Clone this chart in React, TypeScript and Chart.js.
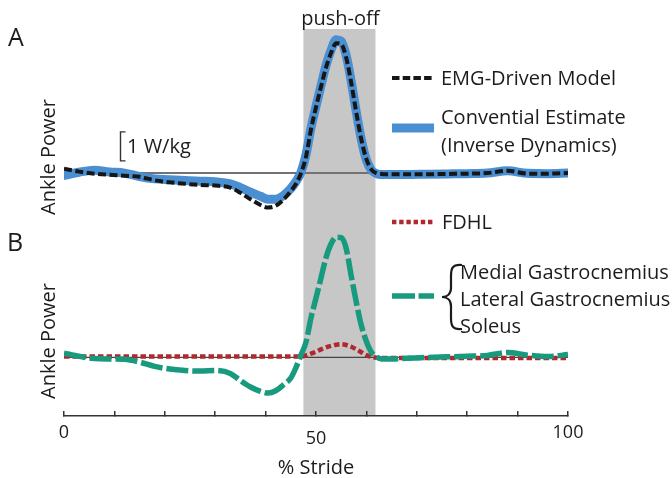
import React, { useEffect, useRef } from 'react';
import { Chart, registerables } from 'chart.js';

Chart.register(...registerables);

// ---------- data ----------
// % of stride at which each curve was sampled
const STRIDE = [0, 3, 6, 9, 12, 15, 18, 21, 24, 27, 30, 33, 35, 37, 39, 40.5, 42, 43.5, 45, 46, 47, 48, 49, 50, 51, 52, 53, 54, 55, 56, 57, 58, 59, 60, 61, 62, 63, 65, 68, 72, 76, 80, 84, 88, 92, 96, 100];

// Panel A (W/kg)
const EMG_MODEL = [0.15, 0.05, -0.02, -0.06, -0.09, -0.13, -0.25, -0.32, -0.37, -0.41, -0.43,
  -0.5, -0.68, -0.9, -1.1, -1.19, -1.13, -0.92, -0.62, -0.38, -0.02,
  0.55, 1.5, 2.27, 2.98, 3.65, 4.15, 4.48, 4.45, 3.98, 3.1, 2.08, 1.15, 0.48, 0.12, 0.0, -0.03,
  -0.04, -0.04, -0.04, -0.03, -0.02, 0.0, 0.08, -0.02, -0.02, 0.0];
const INVERSE_DYNAMICS = [-0.08, 0.03, 0.1, 0.04, 0.0, -0.12, -0.2, -0.23, -0.26, -0.28, -0.3,
  -0.37, -0.5, -0.66, -0.8, -0.9, -0.9, -0.78, -0.53, -0.3, 0.02,
  0.62, 1.55, 2.3, 3.02, 3.72, 4.25, 4.6, 4.55, 4.05, 3.15, 2.1, 1.15, 0.45, 0.1, -0.02, -0.05,
  -0.05, -0.05, -0.04, -0.03, -0.02, 0.0, 0.08, -0.01, -0.02, 0.0];

// Panel B (W/kg)
const TRICEPS_SURAE = [0.15, 0.04, -0.04, -0.05, -0.06, -0.16, -0.31, -0.4, -0.45, -0.47, -0.45,
  -0.55, -0.8, -1.02, -1.17, -1.23, -1.15, -0.95, -0.71, -0.36, 0.08,
  0.52, 1.36, 2.05, 2.75, 3.45, 3.92, 4.15, 4.13, 3.75, 2.8, 1.9, 1.1, 0.55, 0.18, 0.02, -0.05,
  -0.05, -0.03, 0.0, 0.02, 0.04, 0.07, 0.17, 0.08, 0.03, 0.1];
const FDHL = [0.03, 0.03, 0.03, 0.03, 0.03, 0.03, 0.03, 0.03, 0.03, 0.03, 0.03,
  0.03, 0.03, 0.03, 0.03, 0.03, 0.03, 0.03, 0.03, 0.03, 0.03,
  0.07, 0.13, 0.2, 0.28, 0.35, 0.4, 0.44, 0.46, 0.43, 0.37, 0.28, 0.18, 0.08, 0.02, -0.01, -0.02,
  -0.02, -0.02, -0.02, -0.02, -0.02, -0.02, -0.02, -0.02, -0.02, -0.02];

const PUSH_OFF = [47.5, 61.8];
const X_TICK_LABELS = ['0', '50', '100'];
const X_TITLE = '% Stride';
const Y_TITLE = 'Ankle Power';
const PANEL_LABELS = ['A', 'B'];
const PHASE_LABEL = 'push-off';
const SCALE_LABEL = '1 W/kg';
const SCALE_BAR = [0.42, 1.42];
const LEGEND_EMG = 'EMG-Driven Model';
const LEGEND_ID = ['Convential Estimate', '(Inverse Dynamics)'];
const LEGEND_FDHL = 'FDHL';
const LEGEND_TS = ['Medial Gastrocnemius', 'Lateral Gastrocnemius', 'Soleus'];

// axis windows so that both panels share one plot area
const Y_A_RANGE = [-8.38, 4.97];
const Y_B_RANGE = [-2.02, 11.33];

const FONT = "'Open Sans', 'DejaVu Sans', sans-serif";
const INK = '#1f1b1c';

const pts = (ys: number[]) => STRIDE.map((x, i) => ({ x, y: ys[i] }));

const decorPlugin = {
  id: 'decor',
  beforeDraw(chart: any) {
    const { ctx, chartArea: ca, scales } = chart;
    const x = scales.x, yA = scales.yA, yB = scales.yB;
    ctx.save();
    const x1 = x.getPixelForValue(PUSH_OFF[0]);
    const x2 = x.getPixelForValue(PUSH_OFF[1]);
    ctx.fillStyle = '#c7c7c7';
    ctx.fillRect(x1, ca.top, x2 - x1, ca.bottom - ca.top);
    // zero lines
    ctx.strokeStyle = '#727272';
    ctx.lineWidth = 2;
    let y0 = yA.getPixelForValue(0);
    ctx.beginPath(); ctx.moveTo(ca.left, y0); ctx.lineTo(ca.right, y0); ctx.stroke();
    ctx.strokeStyle = '#444';
    ctx.lineWidth = 1.3;
    y0 = yB.getPixelForValue(0);
    ctx.beginPath(); ctx.moveTo(ca.left, y0); ctx.lineTo(ca.right, y0); ctx.stroke();
    ctx.restore();
  },
  afterDraw(chart: any) {
    const { ctx, scales } = chart;
    const x = scales.x, yA = scales.yA;
    const ds = chart.data.datasets;
    ctx.save();
    ctx.fillStyle = INK;
    ctx.textBaseline = 'alphabetic';

    // panel letters
    ctx.font = `25px ${FONT}`;
    ctx.textAlign = 'left';
    ctx.fillText(PANEL_LABELS[0], 8, 46);
    ctx.fillText(PANEL_LABELS[1], 7, 251);

    // push-off label
    ctx.font = `20px ${FONT}`;
    ctx.textAlign = 'center';
    ctx.fillText(PHASE_LABEL, (x.getPixelForValue(PUSH_OFF[0]) + x.getPixelForValue(PUSH_OFF[1])) / 2 + 1, 25);

    // y titles
    const yTitle = (cy: number) => {
      ctx.save();
      ctx.translate(55, cy);
      ctx.rotate(-Math.PI / 2);
      ctx.textAlign = 'center';
      ctx.fillText(Y_TITLE, 0, 0);
      ctx.restore();
    };
    yTitle(157);
    yTitle(341);

    // scale bar
    const sb1 = yA.getPixelForValue(SCALE_BAR[1]);
    const sb0 = yA.getPixelForValue(SCALE_BAR[0]);
    ctx.strokeStyle = '#333';
    ctx.lineWidth = 1.4;
    ctx.beginPath();
    ctx.moveTo(125.5, sb1); ctx.lineTo(120.5, sb1); ctx.lineTo(120.5, sb0); ctx.lineTo(125.5, sb0);
    ctx.stroke();
    ctx.textAlign = 'left';
    ctx.fillText(SCALE_LABEL, 127, 153);

    // legend samples
    const sample = (d: any, y: number, dash?: number[]) => {
      ctx.save();
      ctx.strokeStyle = d.borderColor;
      ctx.lineWidth = d.borderWidth;
      ctx.setLineDash(dash || d.borderDash || []);
      ctx.lineCap = 'butt';
      ctx.beginPath(); ctx.moveTo(392, y); ctx.lineTo(434, y); ctx.stroke();
      ctx.restore();
    };
    sample(ds[0], 78, [7.5, 3.2]);
    sample(ds[1], 128);
    sample(ds[3], 222, [4.4, 2.8]);
    sample(ds[2], 296, [23, 3.5]);

    ctx.fillStyle = INK;
    ctx.font = `20px ${FONT}`;
    ctx.textAlign = 'left';
    ctx.fillText(LEGEND_EMG, 441, 85);
    ctx.fillText(LEGEND_ID[0], 441, 124);
    ctx.fillText(LEGEND_ID[1], 441, 152);
    ctx.fillText(LEGEND_FDHL, 442, 229);
    ctx.fillText(LEGEND_TS[0], 460, 279);
    ctx.fillText(LEGEND_TS[1], 460, 306);
    ctx.fillText(LEGEND_TS[2], 460, 333);

    // brace
    const top = 265, mid = 297, bot = 329, stem = 451, tip = 442, right = 462;
    ctx.strokeStyle = INK;
    ctx.lineWidth = 2.2;
    ctx.beginPath();
    ctx.moveTo(right, top);
    ctx.bezierCurveTo(stem + 1, top - 1, stem, top + 4, stem, top + 11);
    ctx.lineTo(stem, mid - 9);
    ctx.bezierCurveTo(stem, mid - 3, stem - 4, mid, tip, mid);
    ctx.bezierCurveTo(stem - 4, mid, stem, mid + 3, stem, mid + 9);
    ctx.lineTo(stem, bot - 11);
    ctx.bezierCurveTo(stem, bot - 4, stem + 1, bot + 1, right, bot);
    ctx.stroke();

    ctx.restore();
  },
};

export default function App() {
  const ref = useRef<HTMLCanvasElement>(null);
  useEffect(() => {
    const canvas = ref.current;
    if (!canvas) return;
    const chart = new Chart(canvas, {
      type: 'line',
      data: {
        datasets: [
          {
            label: LEGEND_EMG,
            data: pts(EMG_MODEL),
            yAxisID: 'yA',
            borderColor: '#161616',
            borderWidth: 4,
            borderDash: [8, 3.5],
            pointRadius: 0,
            fill: false,
          },
          {
            label: LEGEND_ID.join(' '),
            data: pts(INVERSE_DYNAMICS),
            yAxisID: 'yA',
            borderColor: '#4b8fd3',
            borderWidth: 9,
            borderCapStyle: 'round',
            borderJoinStyle: 'round',
            pointRadius: 0,
            fill: false,
          },
          {
            label: LEGEND_TS.join(', '),
            data: pts(TRICEPS_SURAE),
            yAxisID: 'yB',
            borderColor: '#179a7e',
            borderWidth: 5.5,
            borderDash: [22, 4],
            pointRadius: 0,
            fill: false,
          },
          {
            label: LEGEND_FDHL,
            data: pts(FDHL),
            yAxisID: 'yB',
            borderColor: '#b0292f',
            borderWidth: 4.5,
            borderDash: [5.5, 3],
            pointRadius: 0,
            fill: false,
          },
        ],
      },
      options: {
        responsive: false,
        devicePixelRatio: 1,
        animation: false,
        events: [],
        layout: { padding: { left: 64, right: 104, top: 29, bottom: 0 } },
        elements: { line: { cubicInterpolationMode: 'monotone' }, point: { radius: 0 } },
        plugins: { legend: { display: false }, tooltip: { enabled: false } },
        scales: {
          x: {
            type: 'linear',
            position: 'bottom',
            min: 0,
            max: 100,
            ticks: {
              stepSize: 10,
              autoSkip: false,
              maxRotation: 0,
              padding: 12,
              color: INK,
              font: (c: any) => ({
                family: FONT,
                size: 18,
                lineHeight: c.tick && c.tick.value === 50 ? '32px' : '20px',
              }),
              callback: (v: any) => (X_TICK_LABELS.includes(String(v)) ? String(v) : ''),
            },
            grid: { drawOnChartArea: false, drawTicks: true, tickLength: -5, color: '#333', lineWidth: 1.5 },
            border: { display: true, color: '#333', width: 1.5 },
            title: {
              display: true,
              text: X_TITLE,
              color: INK,
              font: { family: FONT, size: 20, lineHeight: '24px' },
              padding: { top: -11, bottom: -2 },
            },
          },
          yA: { type: 'linear', display: false, min: Y_A_RANGE[0], max: Y_A_RANGE[1] },
          yB: { type: 'linear', display: false, min: Y_B_RANGE[0], max: Y_B_RANGE[1] },
        },
      } as any,
      plugins: [decorPlugin],
    });
    return () => chart.destroy();
  }, []);

  return (
    <div style={{ position: 'fixed', left: 0, top: 0, width: 672, height: 478, background: '#fff' }}>
      <canvas ref={ref} width={672} height={478} style={{ display: 'block', width: 672, height: 478 }} />
    </div>
  );
}
